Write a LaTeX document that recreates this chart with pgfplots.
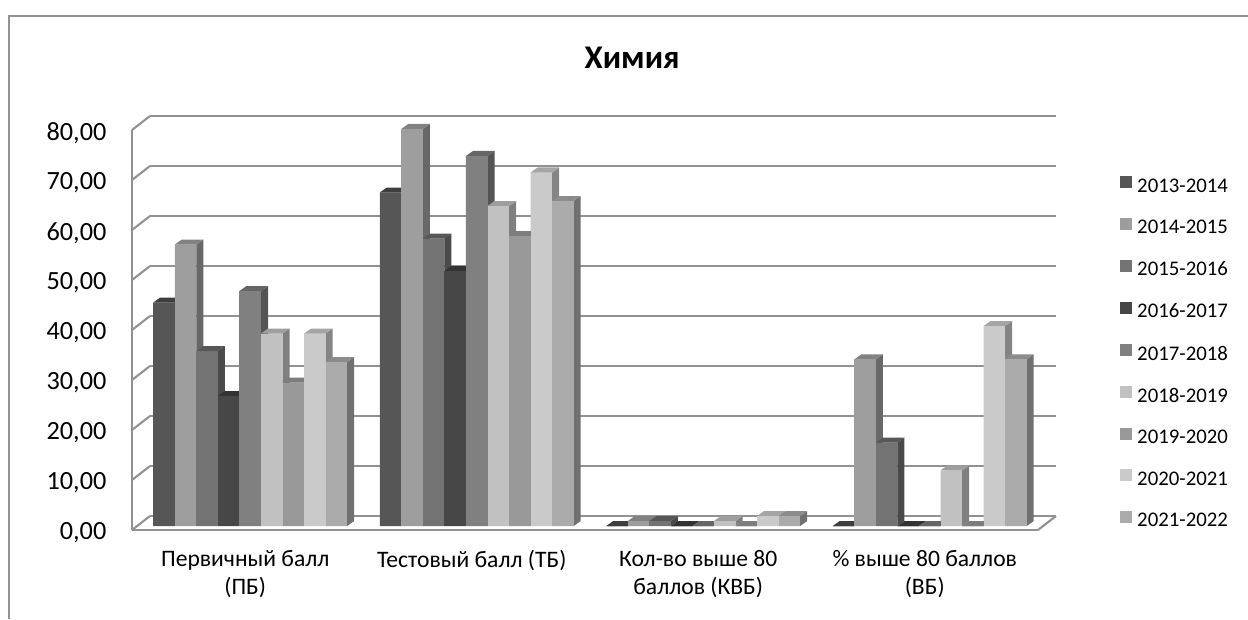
\documentclass[border=0pt]{standalone}
\usepackage{fontspec}
\setmainfont{Carlito}
\usepackage{pgfplots}
\usepackage{pgfplotstable}
\pgfplotsset{compat=1.18}

% 1 px of the reference = 0.75pt
\pgfplotstableread{
cat s1    s2    s3    s4   s5   s6    s7    s8    s9
0   44.7  56.3  35.0  26.0 47.0 38.5  28.7  38.5  32.8
1   66.7  79.4  57.5  51.0 74.0 64.0  58.0  70.7  65.0
2   0     1     1     0    0    1     0     2     2
3   0     33.33 16.67 0    0    11.11 0     40    33.33
}\scores

\definecolor{gridc}{HTML}{929292}
\definecolor{f1}{HTML}{565656}\definecolor{t1}{HTML}{3E3E3E}\definecolor{e1}{HTML}{3A3A3A}
\definecolor{f2}{HTML}{9E9E9E}\definecolor{t2}{HTML}{828282}\definecolor{e2}{HTML}{686868}
\definecolor{f3}{HTML}{737373}\definecolor{t3}{HTML}{575757}\definecolor{e3}{HTML}{4A4A4A}
\definecolor{f4}{HTML}{474747}\definecolor{t4}{HTML}{333333}\definecolor{e4}{HTML}{2E2E2E}
\definecolor{f5}{HTML}{808080}\definecolor{t5}{HTML}{666666}\definecolor{e5}{HTML}{545454}
\definecolor{f6}{HTML}{C1C1C1}\definecolor{t6}{HTML}{9E9E9E}\definecolor{e6}{HTML}{7F7F7F}
\definecolor{f7}{HTML}{999999}\definecolor{t7}{HTML}{7D7D7D}\definecolor{e7}{HTML}{646464}
\definecolor{f8}{HTML}{CACACA}\definecolor{t8}{HTML}{A5A5A5}\definecolor{e8}{HTML}{848484}
\definecolor{f9}{HTML}{ABABAB}\definecolor{t9}{HTML}{8C8C8C}\definecolor{e9}{HTML}{707070}

% side, top and front of a bar: #1 series, #2 shift of the bar from the category
% marks come after the ybar plots, so the front has to be part of the mark
\newcommand\declbar[2]{%
  \pgfdeclareplotmark{bar3d#1}{%
    \pgfmathsetlengthmacro\barh{\rawy*3.75pt}%
    \pgfmathsetlengthmacro\xl{#2-8.08pt}%
    \pgfmathsetlengthmacro\xr{#2+8.08pt}%
    \pgfmathsetlengthmacro\xld{#2-8.08pt+5.25pt}%
    \pgfmathsetlengthmacro\xrd{#2+8.08pt+5.25pt}%
    \pgfsetcolor{e#1}%
    \pgfpathmoveto{\pgfqpoint{\xr}{3pt}}%
    \pgfpathlineto{\pgfqpoint{\xrd}{6.75pt}}%
    \pgfpathlineto{\pgfpoint{\xrd}{6.75pt-\barh}}%
    \pgfpathlineto{\pgfpoint{\xr}{3pt-\barh}}%
    \pgfpathclose\pgfusepathqfill
    \pgfsetcolor{t#1}%
    \pgfpathmoveto{\pgfqpoint{\xl}{3pt}}%
    \pgfpathlineto{\pgfqpoint{\xr}{3pt}}%
    \pgfpathlineto{\pgfqpoint{\xrd}{6.75pt}}%
    \pgfpathlineto{\pgfqpoint{\xld}{6.75pt}}%
    \pgfpathclose\pgfusepathqfill
    \pgfsetcolor{f#1}%
    \pgfpathmoveto{\pgfqpoint{\xl}{3pt}}%
    \pgfpathlineto{\pgfqpoint{\xr}{3pt}}%
    \pgfpathlineto{\pgfpoint{\xr}{3pt-\barh}}%
    \pgfpathlineto{\pgfpoint{\xl}{3pt-\barh}}%
    \pgfpathclose\pgfusepathqfill
  }%
}
\declbar{1}{-60.9pt}\declbar{2}{-44.74pt}\declbar{3}{-28.57pt}
\declbar{4}{-12.41pt}\declbar{5}{3.75pt}\declbar{6}{19.91pt}
\declbar{7}{36.07pt}\declbar{8}{52.23pt}\declbar{9}{68.4pt}

\newcommand\barseries[3]{%
  \addplot[forget plot, scatter, only marks, mark=bar3d#1, point meta=y,
    visualization depends on={y \as \rawy}] table[x=cat, y=s#1] {\scores};
  \addplot[ybar, bar width=16.16pt, bar shift=#2, yshift=3pt, draw=none, fill=f#1,
    legend image code/.code={\fill[f#1] (0pt,-4.5pt) rectangle (9pt,4.5pt); \path (11pt,0pt);}]
    table[x=cat, y=s#1] {\scores};
  \addlegendentry{#3}
}

\begin{document}
\begin{tikzpicture}
\useasboundingbox (0pt,0pt) rectangle (936pt,464.25pt);
\draw[gridc, line width=1.5pt] (6.75pt,0pt) -- (6.75pt,452.6pt) -- (936pt,452.6pt);
\begin{axis}[
    at={(99pt,66.75pt)}, anchor=south west,
    scale only axis, width=679.5pt, height=300pt,
    xmin=-0.5, xmax=3.5, ymin=0, ymax=80,
    clip=false,
    axis x line*=bottom, axis y line*=left,
    axis line style={gridc, line width=1.6pt, -},
    major tick length=0pt,
    xtick=data,
    xticklabels={{Первичный балл\\(ПБ)},{Тестовый балл (ТБ)},{Кол-во выше 80\\баллов (КВБ)},{\% выше 80 баллов\\(ВБ)}},
    xticklabel style={align=center, font=\fontsize{17.7pt}{21pt}\selectfont, yshift=-12pt},
    ytick={0,10,...,80},
    yticklabel style={font=\fontsize{19.7pt}{22pt}\selectfont, xshift=-15.7pt, yshift=-2.2pt,
      /pgf/number format/.cd, fixed, fixed zerofill, precision=2, use comma, 1000 sep={}, assume math mode=true},
    ymajorgrids,
    major grid style={gridc, line width=1.6pt, xshift=13.5pt, yshift=10.5pt},
    title={\bfseries Химия},
    title style={at={(0.552,1)}, anchor=center, yshift=48pt, font=\fontsize{24.8pt}{28pt}\selectfont},
    legend style={at={(axis description cs:1.0901,0.8855)}, anchor=north west, draw=none, fill=none,
      font=\fontsize{15.6pt}{18pt}\selectfont, row sep=15.5pt, inner sep=0pt},
    legend cell align=left,
]
\pgfplotsinvokeforeach{0,10,...,80}{
  \draw[gridc, line width=1.6pt] (axis cs:-0.5,#1) -- ++(13.5pt,10.5pt);
}
\draw[gridc, line width=1.6pt] (axis cs:3.5,0) -- ++(13.5pt,10.5pt);
\barseries{1}{-60.9pt}{2013-2014}
\barseries{2}{-44.74pt}{2014-2015}
\barseries{3}{-28.57pt}{2015-2016}
\barseries{4}{-12.41pt}{2016-2017}
\barseries{5}{3.75pt}{2017-2018}
\barseries{6}{19.91pt}{2018-2019}
\barseries{7}{36.07pt}{2019-2020}
\barseries{8}{52.23pt}{2020-2021}
\barseries{9}{68.4pt}{2021-2022}
\end{axis}
\end{tikzpicture}
\end{document}
